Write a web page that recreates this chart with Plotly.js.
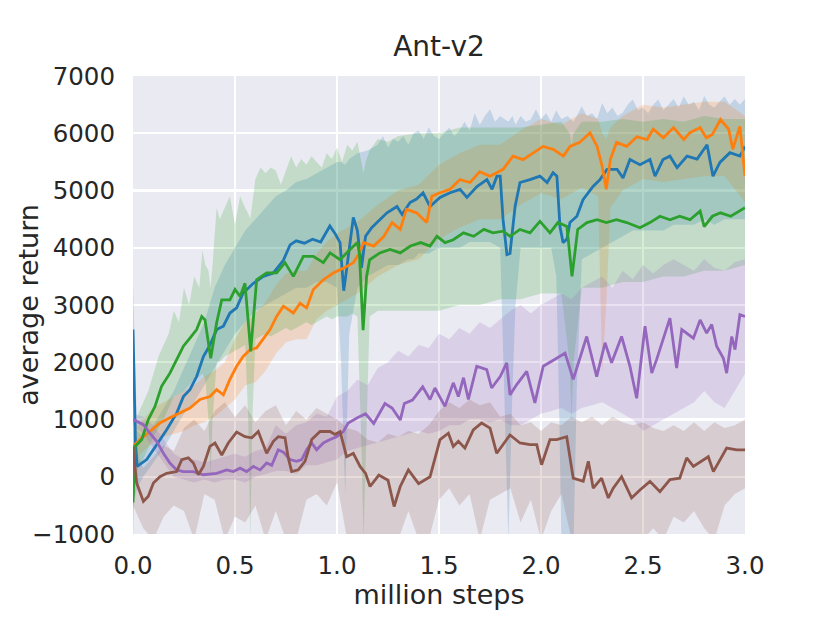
<!DOCTYPE html>
<html>
<head>
<meta charset="utf-8">
<script src="https://cdn.plot.ly/plotly-3.0.1.min.js"></script>
<style>html,body{margin:0;padding:0;background:#fff}#chart{width:829px;height:622px}</style>
</head>
<body>
<div id="chart"></div>
<script>
// ---------------- data ----------------
const chartTitle = "Ant-v2";
const xLabel = "million steps";
const yLabel = "average return";
const xTickVals = [0, 0.5, 1, 1.5, 2, 2.5, 3];
const xTickText = ["0.0", "0.5", "1.0", "1.5", "2.0", "2.5", "3.0"];
const yTickVals = [-1000, 0, 1000, 2000, 3000, 4000, 5000, 6000, 7000];
const yTickText = ["\u22121000", "0", "1000", "2000", "3000", "4000", "5000", "6000", "7000"];

// blue series
const blueX = [0,0.012,0.02,0.067,0.116,0.165,0.214,0.247,0.279,0.312,0.345,0.377,0.41,0.443,0.475,0.508,0.54,0.59,0.639,0.688,0.737,0.77,0.80,0.84,0.88,0.92,0.965,0.99,1.015,1.033,1.05,1.08,1.10,1.12,1.14,1.17,1.196,1.245,1.294,1.319,1.358,1.39,1.422,1.456,1.505,1.554,1.603,1.637,1.686,1.735,1.76,1.784,1.80,1.814,1.833,1.848,1.873,1.897,1.946,1.995,2.03,2.059,2.078,2.093,2.108,2.127,2.142,2.176,2.206,2.255,2.289,2.324,2.373,2.402,2.436,2.485,2.534,2.559,2.598,2.632,2.667,2.716,2.765,2.814,2.843,2.877,2.926,2.975,3.0];
const blueY = [2570,600,180,300,560,820,1110,1400,1520,1750,2100,2300,2570,2630,2860,2950,3210,3380,3500,3560,3780,4050,4120,4080,4150,4100,4380,4250,4090,3250,3700,4530,4300,3650,4200,4350,4440,4610,4720,4580,4790,4850,4960,4720,4880,4960,5020,4880,5070,5190,5020,5250,5250,4490,3880,3900,4720,5140,5190,5250,5140,5310,5250,4370,4090,4150,4440,4550,4840,5070,5190,5370,5370,5220,5540,5450,5540,5250,5540,5600,5400,5600,5550,5800,5250,5490,5660,5600,5770];
const blueBandX = [0,0.02,0.05,0.1,0.15,0.2,0.25,0.3,0.35,0.4,0.45,0.5,0.55,0.6,0.65,0.7,0.75,0.8,0.85,0.9,0.95,1.0,1.02,1.04,1.06,1.1,1.15,1.2,1.225,1.25,1.275,1.3,1.325,1.35,1.375,1.4,1.425,1.45,1.475,1.5,1.525,1.55,1.575,1.6,1.625,1.65,1.675,1.7,1.725,1.75,1.775,1.8,1.82,1.84,1.86,1.875,1.9,1.925,1.95,1.975,2.0,2.025,2.05,2.075,2.09,2.1,2.13,2.16,2.175,2.2,2.225,2.25,2.275,2.3,2.325,2.35,2.375,2.4,2.425,2.45,2.475,2.5,2.525,2.55,2.575,2.6,2.625,2.65,2.675,2.7,2.725,2.75,2.775,2.8,2.825,2.85,2.875,2.9,2.925,2.95,2.975,3.0];
const blueUpper = [3400,800,700,900,1200,1500,1900,2300,2700,3300,3700,4000,4300,4500,4700,4900,5000,5150,5200,5300,5400,5500,5500,5450,5550,5650,5700,5800,5950,5750,5900,5850,5950,5800,6000,6050,5900,6100,5950,5900,6000,6100,5950,6050,6200,6050,6350,6150,6300,6420,6200,6300,6250,6200,6300,6150,6300,6200,6240,6420,6250,6350,6200,6400,6300,6250,6300,6200,6300,6470,6300,6350,6250,6530,6350,6450,6300,6360,6500,6590,6400,6450,6350,6500,6590,6400,6500,6600,6450,6640,6500,6550,6400,6650,6500,6450,6550,6640,6500,6600,6500,6600];
const blueLower = [-500,-200,0,250,500,800,1100,1300,1600,1900,2200,2500,2700,2900,3000,3100,3200,3300,3300,3400,3400,3300,2000,-300,2500,3300,3500,3600,3650,3700,3700,3700,3750,3800,3800,3900,3900,3900,3950,4000,4000,4000,4000,4000,4050,4100,4100,4100,4100,4100,4050,4000,1500,-1100,1500,3000,4000,4000,4000,4000,4000,4000,4000,3500,1000,-1100,-1100,-1100,1500,3800,3850,3900,3950,4000,4050,4100,4150,4200,4250,4300,4300,4300,4300,4300,4300,4300,4350,4400,4400,4400,4400,4400,4450,4500,4450,4400,4450,4500,4500,4500,4500,4500];

// orange series
const orangeX = [0,0.034,0.083,0.132,0.181,0.23,0.279,0.328,0.377,0.41,0.443,0.475,0.508,0.54,0.574,0.606,0.639,0.672,0.704,0.737,0.786,0.819,0.851,0.884,0.933,0.982,1.03,1.08,1.11,1.13,1.18,1.23,1.27,1.31,1.34,1.39,1.44,1.465,1.505,1.554,1.603,1.652,1.70,1.75,1.814,1.863,1.912,1.96,2.01,2.06,2.11,2.142,2.19,2.24,2.275,2.30,2.32,2.34,2.37,2.42,2.47,2.52,2.55,2.60,2.65,2.70,2.73,2.78,2.81,2.84,2.88,2.92,2.94,2.975,3.0];
const orangeY = [530,650,790,940,1030,1110,1200,1350,1400,1520,1430,1700,1930,2100,2220,2250,2400,2570,2800,2980,2860,3030,2950,3270,3440,3560,3640,3740,3910,4090,4030,4200,4440,4320,4670,4610,4440,4900,4960,5020,5190,5140,5330,5250,5370,5600,5540,5660,5770,5720,5600,5770,5840,6010,5770,5420,5020,5540,5840,5770,5940,5890,6070,5920,6100,5890,6010,6100,5920,5980,6240,6070,5720,6120,5250];
const orangeBandX = [0,0.05,0.1,0.15,0.2,0.25,0.3,0.35,0.4,0.45,0.5,0.55,0.6,0.65,0.7,0.75,0.8,0.85,0.9,0.95,1.0,1.1,1.2,1.3,1.4,1.5,1.6,1.7,1.8,1.9,2.0,2.1,2.2,2.28,2.3,2.32,2.34,2.4,2.5,2.6,2.7,2.8,2.9,3.0];
const orangeUpper = [800,1000,1200,1300,1400,1500,1600,1750,1850,2000,2400,2700,2850,3050,3350,3550,3600,3600,3900,4100,4250,4450,4750,5000,5100,5450,5650,5800,5800,6050,6250,6150,6350,6250,6000,5900,6100,6300,6500,6450,6500,6550,6550,6300];
const orangeLower = [250,450,600,700,750,800,900,950,1050,1200,1350,1600,1650,1850,2150,2350,2400,2400,2750,2900,3000,3200,3500,3700,3800,4150,4350,4500,4500,4750,4950,4850,5050,4900,1800,3000,4700,5000,5200,5150,5200,5250,5250,4800];

// green series
const greenX = [0,0.01,0.043,0.075,0.108,0.14,0.181,0.214,0.247,0.279,0.312,0.337,0.353,0.381,0.41,0.435,0.475,0.5,0.525,0.549,0.577,0.606,0.655,0.704,0.745,0.786,0.835,0.884,0.933,0.966,1.015,1.064,1.10,1.11,1.128,1.145,1.16,1.21,1.26,1.31,1.36,1.41,1.456,1.49,1.53,1.57,1.62,1.67,1.72,1.765,1.814,1.848,1.897,1.946,1.995,2.044,2.083,2.127,2.152,2.18,2.225,2.275,2.32,2.37,2.42,2.485,2.534,2.583,2.632,2.68,2.73,2.78,2.80,2.84,2.88,2.93,2.97,3.0];
const greenY = [-450,530,650,1000,1230,1580,1810,2040,2280,2420,2570,2800,2740,2070,2690,3090,3090,3270,3150,3380,2190,3440,3560,3560,3740,3500,3850,3850,3740,3910,3790,3970,4090,3900,2560,3500,3790,3910,3970,3910,4030,4090,4030,4200,4090,4140,4260,4200,4320,4260,4290,4200,4320,4260,4460,4260,4440,4370,3500,4320,4440,4490,4440,4490,4440,4350,4440,4550,4490,4550,4490,4640,4370,4550,4610,4550,4640,4700];
const greenBandX = [0,0.01,0.025,0.05,0.075,0.1,0.125,0.15,0.175,0.2,0.225,0.25,0.275,0.3,0.325,0.34,0.355,0.37,0.38,0.39,0.41,0.425,0.45,0.475,0.5,0.525,0.55,0.565,0.575,0.585,0.6,0.625,0.65,0.675,0.7,0.725,0.75,0.775,0.8,0.825,0.85,0.875,0.9,0.925,0.95,0.975,1.0,1.025,1.05,1.075,1.1,1.12,1.13,1.14,1.16,1.2,1.25,1.3,1.4,1.5,1.6,1.7,1.8,1.9,2.0,2.1,2.14,2.15,2.16,2.2,2.3,2.4,2.5,2.6,2.7,2.8,2.9,3.0];
const greenUpper = [0,900,1100,1300,1500,1800,2100,2300,2500,2900,2700,3300,3000,3500,3300,3950,3700,3600,3300,3700,4700,4500,4700,4900,4400,4900,4700,4600,4500,4800,5200,5400,5300,5400,5350,5100,5350,5600,5400,5550,5450,5600,5500,5400,5650,5550,5750,5500,5800,5700,5850,5500,5300,5500,5700,5900,5850,5950,6000,6000,6100,6100,6100,6100,6150,6200,6000,5800,6000,6200,6200,6250,6200,6250,6200,6300,6250,6250];
const greenLower = [-1100,0,150,300,500,700,850,1000,1200,1400,1450,1500,1600,1700,1750,1800,1700,1000,0,1000,2000,2000,2100,2150,2200,2250,2300,1000,-1100,1000,2400,2450,2500,2450,2500,2550,2600,2550,2600,2650,2700,2650,2700,2750,2800,2750,2800,2800,2800,2850,2800,500,-1100,500,2800,2900,2900,2900,2900,2900,3000,3000,3100,3100,3200,3200,2000,1000,2000,3300,3300,3400,3400,3500,3500,3600,3600,3700];

// purple series
const purpleX = [0,0.051,0.083,0.116,0.149,0.181,0.214,0.247,0.296,0.345,0.41,0.459,0.492,0.525,0.557,0.59,0.623,0.655,0.68,0.712,0.737,0.77,0.802,0.827,0.851,0.876,0.9,0.933,0.966,0.998,1.031,1.055,1.10,1.14,1.18,1.235,1.27,1.31,1.33,1.37,1.42,1.456,1.48,1.529,1.57,1.595,1.62,1.644,1.685,1.734,1.758,1.80,1.832,1.848,1.881,1.93,1.97,2.011,2.077,2.118,2.158,2.224,2.273,2.314,2.346,2.395,2.436,2.469,2.51,2.543,2.567,2.632,2.665,2.69,2.747,2.78,2.812,2.837,2.861,2.894,2.91,2.935,2.951,2.975,3.0];
const purpleY = [1000,910,760,620,410,240,120,90,90,35,60,120,90,150,90,180,120,240,200,470,430,300,270,300,470,590,470,590,650,700,790,940,1030,1100,930,1280,1200,990,1280,1340,1570,1350,1550,1230,1640,1400,1730,1350,1930,1870,1550,1750,1990,1430,1610,1840,1290,1930,2070,2160,1700,2450,1750,2340,1990,2450,1930,1370,2630,1810,2050,2770,1900,2570,2420,2740,2510,2660,2280,2070,1810,2450,2220,2830,2800];
const purpleBandX = [0,0.05,0.1,0.15,0.2,0.25,0.3,0.35,0.4,0.45,0.5,0.55,0.6,0.65,0.7,0.75,0.8,0.85,0.9,0.95,1.0,1.05,1.1,1.15,1.2,1.25,1.3,1.35,1.4,1.45,1.5,1.55,1.6,1.65,1.7,1.75,1.8,1.85,1.9,1.95,2.0,2.05,2.1,2.15,2.2,2.25,2.3,2.35,2.4,2.45,2.5,2.55,2.6,2.65,2.7,2.75,2.8,2.85,2.9,2.95,3.0];
const purpleUpper = [1100,1050,900,650,400,300,300,250,300,350,400,350,450,500,900,750,900,950,1100,1050,1400,1500,1700,1600,1900,2000,2200,2100,2300,2250,2500,2400,2600,2500,2700,2600,2750,2900,3000,2850,3000,3100,3200,3100,3300,3400,3500,3300,3600,3450,3700,3550,3700,3800,3700,3600,3800,3650,3600,3750,3800];
const purpleLower = [900,750,500,250,0,-50,-100,-50,-100,-50,-50,-100,0,50,100,100,50,200,200,250,300,450,500,550,600,650,700,750,800,750,800,900,900,1000,1000,950,1000,900,900,1000,1100,1150,1200,1100,1200,1250,1300,1200,1100,1000,800,900,1000,1100,1200,1300,1500,1300,1200,1500,1800];

// brown series
const brownX = [0,0.018,0.051,0.075,0.1,0.132,0.165,0.214,0.239,0.271,0.296,0.32,0.345,0.377,0.402,0.435,0.467,0.508,0.549,0.582,0.614,0.655,0.688,0.712,0.745,0.761,0.778,0.81,0.843,0.876,0.917,0.966,0.99,1.015,1.047,1.08,1.113,1.14,1.162,1.205,1.25,1.28,1.31,1.35,1.40,1.456,1.505,1.546,1.57,1.595,1.627,1.668,1.709,1.75,1.783,1.848,1.897,1.946,1.979,2.003,2.044,2.077,2.126,2.158,2.207,2.232,2.256,2.297,2.33,2.354,2.395,2.444,2.485,2.534,2.583,2.632,2.68,2.714,2.747,2.796,2.82,2.845,2.877,2.91,2.96,3.0];
const brownY = [530,-110,-430,-340,-110,0,60,90,300,330,240,35,180,530,590,380,590,780,700,680,790,410,620,700,680,330,90,120,270,650,790,790,740,790,350,410,180,60,-170,30,-60,-520,-170,120,-120,0,650,760,530,620,500,820,940,850,410,730,590,560,560,210,650,650,700,-25,-80,270,-200,-25,-370,-200,0,-370,-230,-80,-260,-50,-25,330,180,300,350,90,300,500,470,470];
const brownBandX = [0,0.05,0.1,0.15,0.2,0.25,0.3,0.35,0.4,0.45,0.5,0.55,0.6,0.65,0.7,0.75,0.8,0.85,0.9,0.95,1.0,1.05,1.1,1.15,1.2,1.25,1.3,1.35,1.4,1.45,1.5,1.55,1.6,1.65,1.7,1.75,1.8,1.85,1.9,1.95,2.0,2.05,2.1,2.15,2.2,2.25,2.3,2.35,2.4,2.45,2.5,2.55,2.6,2.65,2.7,2.75,2.8,2.85,2.9,2.95,3.0];
const brownUpper = [600,150,350,550,450,850,1000,800,1150,1300,1050,1250,950,1150,1250,900,1150,1000,1200,1100,1000,850,800,650,600,750,700,800,750,900,1150,1300,1200,1350,1250,1300,1050,1100,900,950,800,950,900,1050,950,1050,900,1050,950,900,950,850,800,900,800,950,800,950,850,900,1000];
const brownLower = [-500,-900,-1100,-700,-500,-600,-1100,-300,-400,-1100,-700,-800,-500,-1100,-600,-1100,-1100,-400,-300,-500,-100,-1100,-1100,-1100,-1100,-1100,-1100,-600,-1100,-1100,-400,-200,-500,-300,-1100,-400,-300,-200,-800,-400,-1100,-600,-300,-1100,-1100,-1100,-1100,-1100,-1100,-1100,-1100,-900,-1100,-700,-800,-600,-900,-1100,-500,-300,-200];

// ---------------- styling ----------------
const series = [
  {x: blueX, y: blueY, bx: blueBandX, up: blueUpper, lo: blueLower, color: "#1f77b4", fill: "rgba(31,119,180,0.2)"},
  {x: orangeX, y: orangeY, bx: orangeBandX, up: orangeUpper, lo: orangeLower, color: "#ff7f0e", fill: "rgba(255,127,14,0.2)"},
  {x: greenX, y: greenY, bx: greenBandX, up: greenUpper, lo: greenLower, color: "#2ca02c", fill: "rgba(44,160,44,0.2)"},
  {x: purpleX, y: purpleY, bx: purpleBandX, up: purpleUpper, lo: purpleLower, color: "#9467bd", fill: "rgba(148,103,189,0.2)"},
  {x: brownX, y: brownY, bx: brownBandX, up: brownUpper, lo: brownLower, color: "#8c564b", fill: "rgba(140,86,75,0.2)"}
];

const traces = [];
series.forEach(s => {
  traces.push({
    type: "scatter", mode: "lines",
    x: s.bx.concat(s.bx.slice().reverse()),
    y: s.up.concat(s.lo.slice().reverse()),
    fill: "toself", fillcolor: s.fill,
    line: {width: 0, color: s.fill},
    hoverinfo: "skip", showlegend: false
  });
});
series.forEach(s => {
  traces.push({
    type: "scatter", mode: "lines",
    x: s.x, y: s.y,
    line: {color: s.color, width: 2.8},
    showlegend: false
  });
});

const fontFam = "DejaVu Sans, sans-serif";
const txt = "#262626";
const layout = {
  width: 829, height: 622,
  margin: {l: 133, r: 84, t: 76, b: 88},
  paper_bgcolor: "#ffffff",
  plot_bgcolor: "#EAEAF2",
  font: {family: fontFam, color: txt, size: 24.5},
  title: {text: chartTitle, font: {family: fontFam, size: 28, color: txt},
          x: 0.5, xref: "paper", xanchor: "center", y: 0.925, yref: "container", yanchor: "middle"},
  showlegend: false,
  xaxis: {
    range: [0, 3], tickvals: xTickVals, ticktext: xTickText,
    showgrid: true, gridcolor: "#ffffff", gridwidth: 2.2,
    zeroline: false, showline: false, ticks: "",
    ticklabelstandoff: 14,
    tickfont: {family: fontFam, size: 24.5, color: txt},
    title: {text: xLabel, font: {family: fontFam, size: 27, color: txt}, standoff: 3},
    automargin: false
  },
  yaxis: {
    range: [-1000, 7000], tickvals: yTickVals, ticktext: yTickText,
    showgrid: true, gridcolor: "#ffffff", gridwidth: 2.2,
    zeroline: false, showline: false, ticks: "",
    ticklabelstandoff: 17,
    tickfont: {family: fontFam, size: 24.5, color: txt},
    automargin: false
  },
  annotations: [{
    text: yLabel, textangle: -90, showarrow: false,
    xref: "paper", yref: "paper", x: -0.172, y: 0.5,
    xanchor: "center", yanchor: "middle",
    font: {family: fontFam, size: 27, color: txt}
  }]
};

Plotly.newPlot("chart", traces, layout, {displayModeBar: false, staticPlot: true});
</script>
</body>
</html>
